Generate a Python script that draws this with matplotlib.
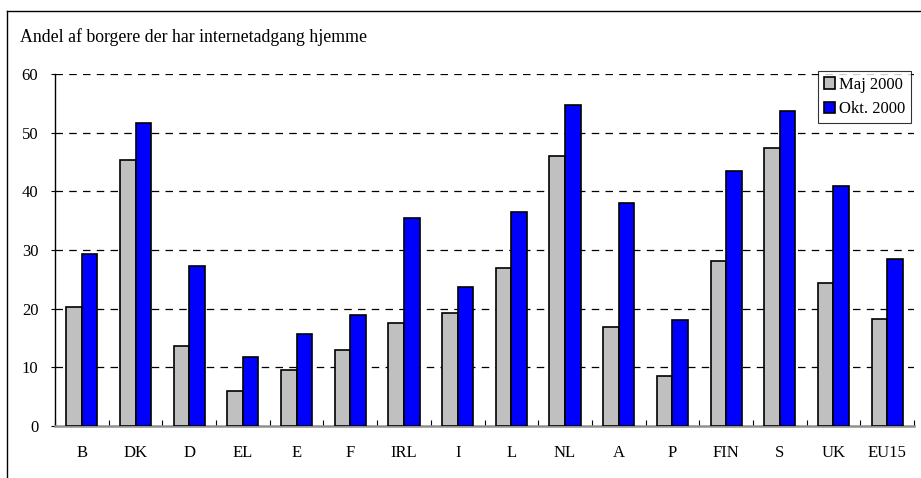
import numpy as np
from matplotlib import pyplot as plt
from matplotlib.lines import Line2D

countries = ["B", "DK", "D", "EL", "E", "F", "IRL", "I", "L", "NL", "A", "P", "FIN", "S", "UK", "EU15"]
maj_2000 = [20.2, 45.3, 13.6, 5.9, 9.5, 13.0, 17.5, 19.2, 26.9, 46.1, 16.9, 8.5, 28.2, 47.4, 24.4, 18.3]
okt_2000 = [29.3, 51.6, 27.2, 11.8, 15.7, 19.0, 35.5, 23.7, 36.4, 54.8, 38.0, 18.1, 43.5, 53.7, 40.9, 28.5]
yticks = [0, 10, 20, 30, 40, 50, 60]
title = "Andel af borgere der har internetadgang hjemme"
#############################################################

plt.rcParams["font.family"] = ["Liberation Serif", "DejaVu Serif"]

fig = plt.figure(figsize=(9.21, 4.78), dpi=100)
ax = fig.add_axes([55/921, 1-426/478, 859/921, 352/478])

x = np.arange(len(countries))
w = 0.29
ax.bar(x - w/2, maj_2000, w, color="#c0c0c0", edgecolor="black", linewidth=1.2, label="Maj 2000", zorder=3)
ax.bar(x + w/2, okt_2000, w, color="#0000ff", edgecolor="black", linewidth=1.2, label="Okt. 2000", zorder=3)

ax.set_xlim(-0.5, len(countries) - 0.5)
ax.set_ylim(0, 60)
ax.set_yticks(yticks)
ax.set_yticklabels([str(v) for v in yticks], fontsize=12)
for v in yticks[1:]:
    ax.axhline(v, color="black", linestyle=(0, (6, 5)), linewidth=0.9, zorder=1)

ax.set_xticks(x)
ax.set_xticklabels(countries, fontsize=12)
ax.tick_params(axis="x", which="major", length=0, pad=14)
ax.set_xticks(np.arange(len(countries) + 1) - 0.5, minor=True)
ax.tick_params(axis="x", which="minor", direction="in", length=4, width=0.8)
ax.tick_params(axis="y", length=3, width=0.8, pad=9)

for s in ["top", "right"]:
    ax.spines[s].set_visible(False)
ax.spines["left"].set_linewidth(1)
ax.spines["bottom"].set_color("#909090")
ax.spines["bottom"].set_linewidth(1.8)

leg = ax.legend(loc="upper right", bbox_to_anchor=(0.997, 1.008), fontsize=12, frameon=True,
                fancybox=False, edgecolor="black", handlelength=0.7, handleheight=0.7,
                handletextpad=0.25, borderpad=0.35, labelspacing=0.5, borderaxespad=0)
leg.get_frame().set_linewidth(0.8)

fig.text(20/921, 1-37/478, title, fontsize=12.8, va="center", ha="left")

fig.add_artist(Line2D([7/921, 7/921], [0, 1-11/478], color="black", linewidth=1))
fig.add_artist(Line2D([7/921, 1], [1-11/478, 1-11/478], color="black", linewidth=1))

fig.savefig("out.png", dpi=100)
